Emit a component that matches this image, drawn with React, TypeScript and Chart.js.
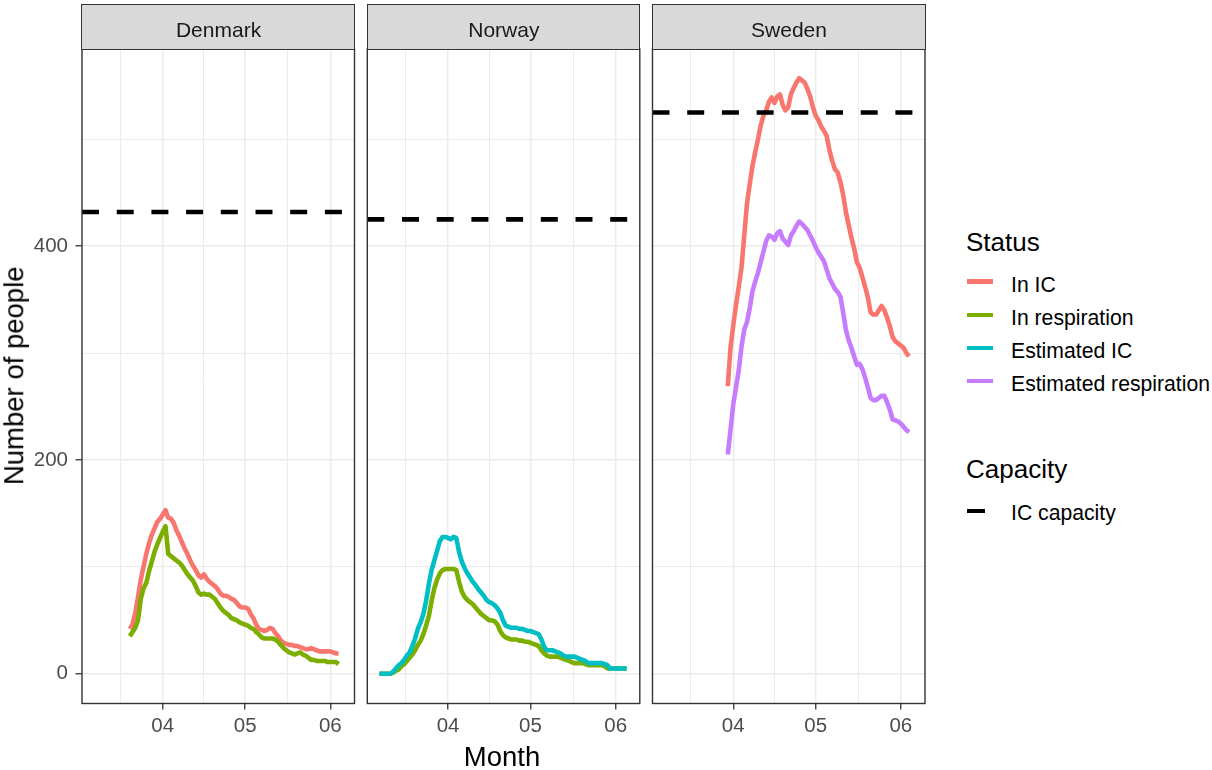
import React, { useEffect, useRef } from "react";
import { Chart, registerables } from "chart.js";

Chart.register(...registerables);

const FONT = "'Liberation Sans', Arial, Helvetica, sans-serif";

// ---------------- data ----------------
// x = day number counted from 1 March (1 Apr = 31, 1 May = 61, 1 Jun = 92)
const monthTickDays = [31, 61, 92];
const monthTickLabels = ["04", "05", "06"];
const minorTickDays = [15.5, 46, 76.5];
const yTickValues = [0, 200, 400];
const yTickLabels = ["0", "200", "400"];
const yMinorValues = [100, 300, 500];

const countries = ["Denmark", "Norway", "Sweden"];
const icCapacity = [432, 425, 525];

const statusNames = ["In IC", "In respiration", "Estimated IC", "Estimated respiration"];
const statusColors = ["#F8766D", "#7CAE00", "#00BFC4", "#C77CFF"];

const denmarkStartDay = 19;
const denmarkInIC = [
  42, 46, 57, 72, 88, 100, 112, 122, 130, 136, 142, 145, 149, 153, 146, 145, 141, 134, 129, 123,
  117, 112, 106, 101, 97, 92, 90, 93, 89, 86, 84, 82, 79, 75, 73, 73, 72, 70, 69, 66,
  63, 62, 62, 61, 56, 52, 46, 42, 41, 40, 41, 43, 42, 38, 35, 31, 29, 28, 27, 27,
  26, 26, 25, 24, 23, 23, 24, 23, 22, 21, 21, 21, 21, 21, 20, 19, 19,
];
const denmarkInRespiration = [
  35, 39, 43, 50, 70, 80, 85, 96, 105, 114, 121, 127, 133, 138, 112, 110, 108, 106, 104, 101,
  97, 93, 90, 87, 82, 76, 74, 75, 74, 74, 72, 70, 66, 62, 59, 57, 55, 52, 51, 50,
  48, 47, 46, 45, 43, 42, 39, 37, 34, 33, 33, 33, 33, 32, 30, 27, 24, 22, 20, 19,
  18, 19, 20, 18, 17, 15, 13, 13, 12, 12, 12, 12, 11, 11, 11, 11, 9,
];

const norwayStartDay = 6;
const norwayInRespiration = [
  0, 0, 0, 0, 0, 1, 3, 4, 7, 9, 12, 15, 18, 22, 27, 31, 37, 45, 54, 68,
  80, 88, 94, 97, 98, 98, 98, 98, 97, 86, 77, 72, 69, 67, 65, 62, 59, 56, 54, 52,
  50, 50, 49, 46, 40, 36, 34, 33, 32, 32, 32, 31, 31, 30, 30, 29, 28, 27, 26, 22,
  19, 17, 16, 16, 16, 16, 15, 14, 13, 12, 11, 10, 10, 10, 10, 9, 8, 8, 8, 8,
  8, 8, 7, 5, 5, 5, 5, 5, 5, 5, 5,
];
const norwayEstimatedIC = [
  0, 0, 0, 0, 0, 2, 5, 8, 10, 13, 17, 20, 26, 33, 42, 48, 56, 68, 84, 97,
  106, 115, 124, 128, 128, 127, 126, 128, 127, 114, 105, 99, 94, 90, 86, 83, 79, 76, 73, 69,
  67, 66, 64, 61, 57, 50, 45, 44, 43, 43, 43, 42, 42, 41, 40, 40, 39, 38, 37, 32,
  25, 22, 22, 22, 21, 20, 19, 17, 16, 16, 16, 16, 15, 14, 13, 12, 10, 10, 10, 10,
  10, 10, 9, 8, 5, 5, 5, 5, 5, 5, 5,
];

const swedenStartDay = 29;
const swedenInIC = [
  269, 305, 326, 345, 362, 380, 410, 440, 458, 475, 488, 500, 513, 522, 527, 535, 539, 534, 540, 542,
  532, 527, 530, 542, 548, 553, 557, 555, 553, 547, 540, 530, 522, 518, 512, 508, 503, 490, 480, 472,
  469, 460, 448, 432, 420, 408, 398, 385, 380, 371, 362, 352, 338, 336, 336, 340, 344, 340, 333, 325,
  315, 311, 309, 307, 305, 300, 297,
];
const swedenEstimatedRespiration = [
  205, 228, 252, 268, 284, 306, 322, 329, 342, 358, 367, 375, 385, 395, 405, 410, 409, 406, 412, 414,
  407, 404, 401, 410, 414, 419, 423, 421, 418, 415, 410, 405, 399, 394, 390, 386, 378, 370, 365, 360,
  357, 353, 338, 322, 312, 305, 297, 289, 290, 285, 277, 268, 258, 256, 256, 258, 260, 260, 254, 247,
  238, 237, 236, 234, 231, 228, 226,
];

type Series = { status: number; start: number; values: number[] };
const panelSeries: Series[][] = [
  [
    { status: 0, start: denmarkStartDay, values: denmarkInIC },
    { status: 1, start: denmarkStartDay, values: denmarkInRespiration },
  ],
  [
    { status: 1, start: norwayStartDay, values: norwayInRespiration },
    { status: 2, start: norwayStartDay, values: norwayEstimatedIC },
  ],
  [
    { status: 0, start: swedenStartDay, values: swedenInIC },
    { status: 3, start: swedenStartDay, values: swedenEstimatedRespiration },
  ],
];

// ---------------- layout ----------------
const X_MIN = 1.6;
const X_MAX = 100.8;
const Y_MIN = -27.8;
const Y_MAX = 584.4;

const PANEL_LEFTS = [82, 367.3, 652.5];
const PANEL_WIDTH = 272.5;
const PANEL_TOP = 49;
const PANEL_BOTTOM = 703.5;
const STRIP_TOP = 5;
const CANVAS_H = 770;
const CANVAS_LEFTS = [0, 360, 646];
const CANVAS_WIDTHS = [361, 287, 286];
const X_AXIS_H = 50;

const TICK_SIZE = 20.5;
const STRIP_SIZE = 21;
const LEGEND_SIZE = 21.2;
const LEGEND_TITLE_SIZE = 26;
const AXIS_TITLE_SIZE = 27.5;

const panelBorder = {
  id: "panelBorder",
  afterDraw(chart: any) {
    const { ctx, chartArea: a } = chart;
    ctx.save();
    ctx.strokeStyle = "#333333";
    ctx.lineWidth = 1.4;
    ctx.strokeRect(a.left, a.top, a.right - a.left, a.bottom - a.top);
    ctx.restore();
  },
};

function Panel({ index }: { index: number }) {
  const ref = useRef<HTMLCanvasElement>(null);
  const canvasLeft = CANVAS_LEFTS[index];
  const canvasWidth = CANVAS_WIDTHS[index];

  useEffect(() => {
    const canvas = ref.current;
    if (!canvas) return;
    const panelLeft = PANEL_LEFTS[index];
    const showY = index === 0;
    const yAxisWidth = showY ? panelLeft - canvasLeft : 0;
    const padLeft = panelLeft - canvasLeft - yAxisWidth;
    const padRight = canvasLeft + canvasWidth - (panelLeft + PANEL_WIDTH);
    const padBottom = CANVAS_H - PANEL_BOTTOM - X_AXIS_H;

    const datasets: any[] = [
      {
        label: "IC capacity",
        data: [
          { x: X_MIN, y: icCapacity[index] },
          { x: X_MAX, y: icCapacity[index] },
        ],
        borderColor: "#000000",
        backgroundColor: "#000000",
        borderWidth: 4.6,
        borderDash: [17, 17.7],
        borderCapStyle: "butt",
        pointRadius: 0,
        order: 0,
        clip: 0,
      },
      ...panelSeries[index].map((s) => ({
        label: statusNames[s.status],
        data: s.values.map((v, k) => ({ x: s.start + k, y: v })),
        borderColor: statusColors[s.status],
        backgroundColor: statusColors[s.status],
        borderWidth: 4.6,
        borderJoinStyle: "round",
        borderCapStyle: "butt",
        pointRadius: 0,
        tension: 0,
        order: 4 - s.status,
        clip: 0,
      })),
    ];

    const xTicks = [...minorTickDays, ...monthTickDays].sort((a, b) => a - b);
    const yTicks = [...yMinorValues, ...yTickValues].sort((a, b) => a - b);
    const isMajorX = (v: number) => monthTickDays.includes(v);
    const isMajorY = (v: number) => yTickValues.includes(v);

    const chart = new Chart(canvas, {
      type: "line",
      data: { datasets },
      options: {
        animation: false,
        responsive: false,
        events: [],
        layout: {
          autoPadding: false,
          padding: { left: padLeft, right: padRight, top: PANEL_TOP, bottom: padBottom },
        },
        plugins: {
          legend: { display: false },
          tooltip: { enabled: false },
          title: { display: false },
        },
        scales: {
          x: {
            type: "linear",
            min: X_MIN,
            max: X_MAX,
            bounds: "data",
            afterBuildTicks: (s: any) => {
              s.ticks = xTicks.map((v) => ({ value: v }));
            },
            afterFit: (s: any) => {
              s.height = X_AXIS_H;
            },
            border: { display: false },
            grid: {
              color: "#EBEBEB",
              lineWidth: (c: any) => (c.tick && isMajorX(c.tick.value) ? 1.5 : 1),
              drawTicks: true,
              tickLength: 6,
              tickWidth: 1.3,
              tickColor: (c: any) => (c.tick && isMajorX(c.tick.value) ? "#333333" : "rgba(0,0,0,0)"),
            },
            ticks: {
              autoSkip: false,
              maxRotation: 0,
              minRotation: 0,
              padding: 5,
              color: "#4D4D4D",
              font: { family: FONT, size: TICK_SIZE },
              callback: (v: any) => {
                const i = monthTickDays.indexOf(Number(v));
                return i >= 0 ? monthTickLabels[i] : "";
              },
            },
          },
          y: {
            type: "linear",
            min: Y_MIN,
            max: Y_MAX,
            bounds: "data",
            afterBuildTicks: (s: any) => {
              s.ticks = yTicks.map((v) => ({ value: v }));
            },
            afterFit: (s: any) => {
              s.width = yAxisWidth;
            },
            border: { display: false },
            grid: {
              color: "#EBEBEB",
              lineWidth: (c: any) => (c.tick && isMajorY(c.tick.value) ? 1.5 : 1),
              drawTicks: showY,
              tickLength: 6.5,
              tickWidth: 1.3,
              tickColor: (c: any) => (c.tick && isMajorY(c.tick.value) ? "#333333" : "rgba(0,0,0,0)"),
            },
            ticks: {
              display: showY,
              autoSkip: false,
              padding: 7.5,
              color: "#4D4D4D",
              font: { family: FONT, size: TICK_SIZE },
              callback: (v: any) => {
                const i = yTickValues.indexOf(Number(v));
                return i >= 0 ? yTickLabels[i] : "";
              },
            },
          },
        },
      } as any,
      plugins: [panelBorder],
    });
    return () => chart.destroy();
  }, [index, canvasLeft, canvasWidth]);

  return (
    <canvas
      ref={ref}
      width={canvasWidth}
      height={CANVAS_H}
      style={{ position: "absolute", left: canvasLeft, top: 0, width: canvasWidth, height: CANVAS_H }}
    />
  );
}

function Text({
  children,
  left,
  cy,
  size,
  color = "#000",
  width,
  align = "left",
}: {
  children: React.ReactNode;
  left: number;
  cy: number;
  size: number;
  color?: string;
  width?: number;
  align?: "left" | "center";
}) {
  return (
    <div
      style={{
        position: "absolute",
        left,
        top: cy - size / 2,
        width,
        height: size,
        lineHeight: `${size}px`,
        fontSize: size,
        fontFamily: FONT,
        color,
        whiteSpace: "nowrap",
        textAlign: align,
      }}
    >
      {children}
    </div>
  );
}

export default function App() {
  const keyCenters = [281.7, 314.8, 347.9, 381];
  return (
    <div
      style={{
        position: "absolute",
        left: 0,
        top: 0,
        width: 1212,
        height: 770,
        background: "#ffffff",
        overflow: "hidden",
        fontFamily: FONT,
      }}
    >
      {countries.map((c, i) => (
        <Panel key={c} index={i} />
      ))}

      {countries.map((c, i) => (
        <div
          key={"strip-" + c}
          style={{
            position: "absolute",
            left: PANEL_LEFTS[i] - 0.7,
            top: STRIP_TOP - 0.7,
            width: PANEL_WIDTH + 1.4,
            height: PANEL_TOP - STRIP_TOP + 1.4,
            boxSizing: "border-box",
            border: "1.4px solid #333333",
            background: "#D9D9D9",
          }}
        >
          <Text left={0} cy={28.8 - STRIP_TOP + 0.7} size={STRIP_SIZE} color="#1A1A1A" width={PANEL_WIDTH} align="center">
            {c}
          </Text>
        </div>
      ))}

      {/* axis titles */}
      <Text left={502 - 100} cy={756.7} size={AXIS_TITLE_SIZE} width={200} align="center">
        Month
      </Text>
      <div
        style={{
          position: "absolute",
          left: 14 - 150,
          top: 376 - AXIS_TITLE_SIZE / 2,
          width: 300,
          height: AXIS_TITLE_SIZE,
          lineHeight: `${AXIS_TITLE_SIZE}px`,
          fontSize: AXIS_TITLE_SIZE,
          fontFamily: FONT,
          color: "#000",
          textAlign: "center",
          whiteSpace: "nowrap",
          transform: "rotate(-90deg)",
        }}
      >
        Number of people
      </div>

      {/* legend: Status */}
      <Text left={966} cy={242} size={LEGEND_TITLE_SIZE}>
        Status
      </Text>
      {statusNames.map((n, i) => (
        <React.Fragment key={n}>
          <div
            style={{
              position: "absolute",
              left: 967.3,
              top: keyCenters[i] - 2.3,
              width: 26,
              height: 4.6,
              background: statusColors[i],
            }}
          />
          <Text left={1011} cy={keyCenters[i] + 2.5} size={LEGEND_SIZE}>
            {n}
          </Text>
        </React.Fragment>
      ))}

      {/* legend: Capacity */}
      <Text left={966} cy={469.3} size={LEGEND_TITLE_SIZE}>
        Capacity
      </Text>
      <div
        style={{
          position: "absolute",
          left: 967.3,
          top: 511 - 2.3,
          width: 17.7,
          height: 4.6,
          background: "#000000",
        }}
      />
      <Text left={1011} cy={512.8} size={LEGEND_SIZE}>
        IC capacity
      </Text>
    </div>
  );
}
